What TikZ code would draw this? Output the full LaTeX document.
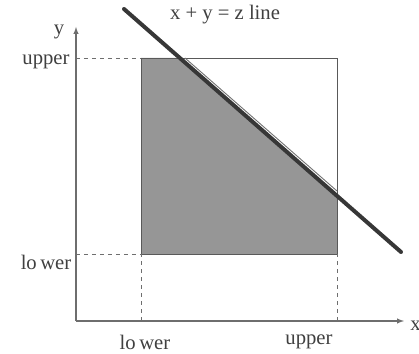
\documentclass[tikz,border=0pt]{standalone}
\usepackage{fontspec}
\setmainfont{Liberation Serif}
\usepackage{tikz}
\definecolor{axisgray}{RGB}{110,110,110}
\definecolor{regiongray}{RGB}{150,150,150}
\definecolor{linegray}{RGB}{55,55,55}
\tikzset{
  guide/.style={draw=axisgray,dashed,line width=0.6pt},
  lbl/.style={text=black!75,font=\fontsize{15.5}{17}\selectfont,inner sep=0pt},
}

\begin{document}
\begin{tikzpicture}[x=0.75pt,y=0.75pt]
\useasboundingbox (0,0) rectangle (419,354);
% shaded region below the line
\fill[regiongray] (141,100) -- (141,296) -- (179,296) -- (337,158) -- (337,100) -- cycle;
\draw[draw=black!65,line width=0.7pt] (141,100) rectangle (337,296);
\draw[draw=black!55,line width=0.7pt] (185,296) -- (337,163);
% guides
\draw[guide] (76,296) -- (141,296);
\draw[guide] (76,100) -- (141,100);
\draw[guide] (141,33) -- (141,100);
\draw[guide] (337,33) -- (337,100);
% axes
\draw[draw=axisgray,line width=0.8pt,-latex] (76,33) -- (76,327);
\draw[draw=axisgray,line width=0.8pt,-latex] (76,33) -- (404,33);
% x + y = z
\draw[draw=linegray,line width=3pt,line cap=round] (124,345) -- (401,102);
% labels
\node[lbl] (title) at (225,339) {x + y = z line};
\node[lbl] (ylab) at (59,322) {y};
\node[lbl,anchor=west] (xlab) at (410,28) {x};
\node[lbl] (yup) at (46,292) {upper};
\node[lbl] (ylow) at (46,92) {lo\,wer};
\node[lbl] (xlow) at (145,12) {lo\,wer};
\node[lbl] (xup) at (309,12) {upper};
\end{tikzpicture}
\end{document}
